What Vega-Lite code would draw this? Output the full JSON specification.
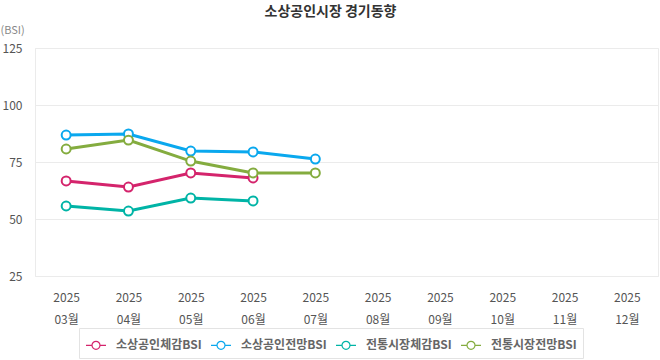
{
  "$schema": "https://vega.github.io/schema/vega-lite/v6.json",
  "width": 623,
  "height": 228,
  "autosize": {"type": "none"},
  "padding": {"left": 35, "top": 48, "right": 2, "bottom": 84},
  "background": "white",
  "config": {
    "font": "Noto Sans CJK KR",
    "view": {"stroke": "#ebebeb", "strokeWidth": 1}
  },
  "title": {
    "text": "소상공인시장 경기동향",
    "anchor": "middle",
    "frame": "group",
    "dx": -16,
    "offset": 5,
    "fontSize": 14,
    "fontWeight": "bold",
    "color": "#333"
  },
  "data": {
    "values": [
      {"series": "소상공인체감BSI", "month": "03", "value": 66.7},
      {"series": "소상공인체감BSI", "month": "04", "value": 64.0},
      {"series": "소상공인체감BSI", "month": "05", "value": 70.2},
      {"series": "소상공인체감BSI", "month": "06", "value": 68.0},
      {"series": "소상공인전망BSI", "month": "03", "value": 86.8},
      {"series": "소상공인전망BSI", "month": "04", "value": 87.3},
      {"series": "소상공인전망BSI", "month": "05", "value": 79.8},
      {"series": "소상공인전망BSI", "month": "06", "value": 79.4},
      {"series": "소상공인전망BSI", "month": "07", "value": 76.3},
      {"series": "전통시장체감BSI", "month": "03", "value": 55.7},
      {"series": "전통시장체감BSI", "month": "04", "value": 53.5},
      {"series": "전통시장체감BSI", "month": "05", "value": 59.2},
      {"series": "전통시장체감BSI", "month": "06", "value": 57.9},
      {"series": "전통시장전망BSI", "month": "03", "value": 80.7},
      {"series": "전통시장전망BSI", "month": "04", "value": 84.6},
      {"series": "전통시장전망BSI", "month": "05", "value": 75.4},
      {"series": "전통시장전망BSI", "month": "06", "value": 70.2},
      {"series": "전통시장전망BSI", "month": "07", "value": 70.2}
    ]
  },
  "encoding": {
    "x": {
      "field": "month",
      "type": "ordinal",
      "sort": null,
      "scale": {"type": "point", "padding": 0.5, "domain": ["03", "04", "05", "06", "07", "08", "09", "10", "11", "12"]},
      "axis": {
        "title": null,
        "labelExpr": "['2025', datum.value + '월']",
        "labelAngle": 0,
        "labelFontSize": 12,
        "labelColor": "#555",
        "labelLineHeight": 22,
        "labelPadding": 16,
        "ticks": false,
        "domain": false,
        "grid": false
      }
    },
    "y": {
      "field": "value",
      "type": "quantitative",
      "scale": {"domain": [25, 125], "nice": false, "zero": false},
      "axis": {
        "title": "(BSI)",
        "titleAngle": 0,
        "titleAlign": "left",
        "titleBaseline": "middle",
        "titleX": -35,
        "titleY": -18,
        "titleFontSize": 11,
        "titleFontWeight": "normal",
        "titleColor": "#888",
        "values": [25, 50, 75, 100, 125],
        "labelFontSize": 12,
        "labelColor": "#555",
        "labelPadding": 13,
        "labelFlush": false,
        "ticks": false,
        "domain": false,
        "gridColor": "#ebebeb"
      }
    },
    "color": {
      "field": "series",
      "type": "nominal",
      "sort": ["소상공인체감BSI", "소상공인전망BSI", "전통시장체감BSI", "전통시장전망BSI"],
      "scale": {
        "domain": ["소상공인체감BSI", "소상공인전망BSI", "전통시장체감BSI", "전통시장전망BSI"],
        "range": ["#d4246c", "#0aa8ee", "#00b4a6", "#84ac3f"]
      },
      "legend": {
        "title": null,
        "orient": "none",
        "direction": "horizontal",
        "legendX": 44,
        "legendY": 280,
        "symbolType": "M-1,0H-0.4M0.4,0H1M0.4,0A0.4,0.4,0,1,1,-0.4,0A0.4,0.4,0,1,1,0.4,0",
        "symbolSize": 400,
        "symbolStrokeWidth": 1.2,
        "symbolFillColor": "white",
        "labelFontSize": 12,
        "labelColor": "#666",
        "labelFontWeight": "bold",
        "labelOffset": 9,
        "columnPadding": 6,
        "padding": 6,
        "strokeColor": "#e3e3e3",
        "fillColor": "white"
      }
    }
  },
  "layer": [
    {"mark": {"type": "line", "strokeWidth": 3}},
    {"mark": {"type": "point", "filled": false, "fill": "white", "fillOpacity": 1, "opacity": 1, "strokeWidth": 2, "size": 80}}
  ]
}
